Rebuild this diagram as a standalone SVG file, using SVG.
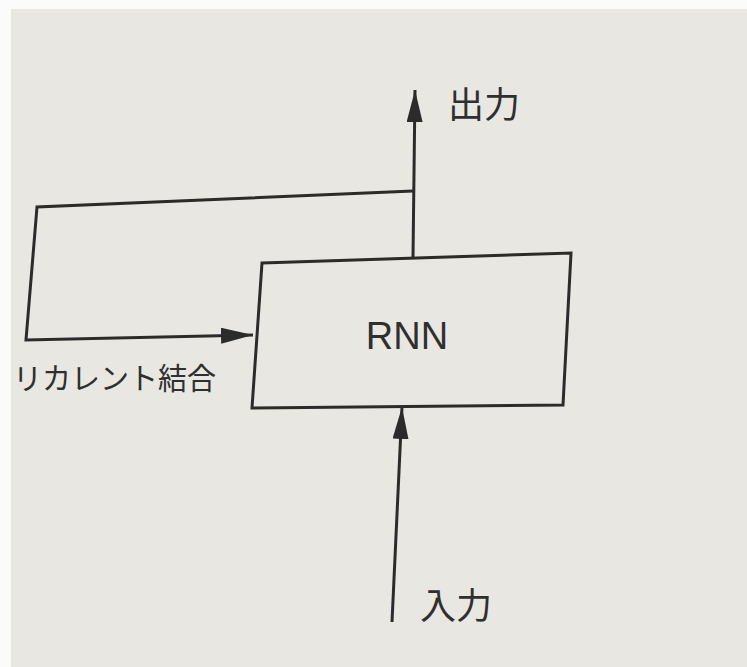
<svg xmlns="http://www.w3.org/2000/svg" width="747" height="667" viewBox="0 0 747 667">
<defs>
<style>
.ln{fill:none;stroke:#2b2b2b;stroke-width:3;stroke-linejoin:miter}
.tx{fill:#2f2f2f;font-family:"Noto Sans CJK JP","Liberation Sans",sans-serif}
.en{fill:#2f2f2f;font-family:"Liberation Sans",Arial,sans-serif}
</style>
<marker id="ahb" viewBox="0 0 10 10" refX="10" refY="5" markerWidth="32" markerHeight="16" markerUnits="userSpaceOnUse" orient="auto" preserveAspectRatio="none">
<path d="M0,0 L10,5 L0,10 z" fill="#2b2b2b"/>
</marker>
</defs>
<rect x="0" y="0" width="747" height="667" fill="#fbfbfa"/>
<rect x="11" y="9" width="736" height="658" fill="#e9e7e1"/>
<g id="connectors">
<path class="ln" d="M413,258 L415,90" marker-end="url(#ahb)"/>
<path class="ln" d="M413,191 L37,207 L26,340 L253,335" marker-end="url(#ahb)"/>
<path class="ln" d="M392,622 L402,407" marker-end="url(#ahb)"/>
</g>
<g id="rnn">
<polygon class="ln" points="262,263 571,253 563,405 252,408"/>
<text class="en" x="407" y="349" font-size="38" text-anchor="middle">RNN</text>
</g>
<g id="output-label">
<text class="tx" x="448" y="118" font-size="36">出力</text>
</g>
<g id="input-label">
<text class="tx" x="420" y="619" font-size="36">入力</text>
</g>
<g id="recurrent-label">
<text class="tx" x="13" y="389" font-size="30" textLength="203" lengthAdjust="spacingAndGlyphs">リカレント結合</text>
</g>
</svg>
